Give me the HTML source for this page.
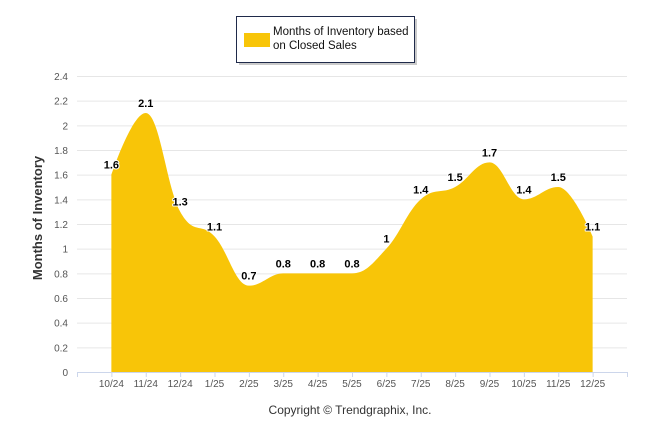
<!DOCTYPE html>
<html><head><meta charset="utf-8"><style>
html,body{margin:0;padding:0;background:#fff;width:646px;height:434px;overflow:hidden}
text{font-family:"Liberation Sans",Arial,sans-serif}
</style></head><body>
<svg id="chart" width="646" height="434" viewBox="0 0 646 434" xmlns="http://www.w3.org/2000/svg">
<g>
<rect x="237.5" y="17.5" width="178" height="46" fill="#666" opacity="0.35" transform="translate(1.5,1.5)"/>
<rect x="236.5" y="16.5" width="178" height="46" fill="#fff" stroke="#1f2a4a" stroke-width="1"/>
<rect x="244" y="33" width="26" height="14" fill="#f8c508"/>
<text x="273" y="35" font-size="11.5" fill="#111">Months of Inventory based</text>
<text x="273" y="49" font-size="11.5" fill="#111">on Closed Sales</text>
</g>
<g id="grid"></g>
<g id="yticks"></g>
<path id="area" fill="#f8c508"/>
<g id="xaxis"></g>
<g id="labels"></g>
<text transform="translate(42,218) rotate(-90)" text-anchor="middle" font-size="13" font-weight="bold" fill="#333">Months of Inventory</text>
<text x="350" y="414" text-anchor="middle" font-size="12" fill="#333">Copyright © Trendgraphix, Inc.</text>
</svg>
<script>
const categories=["10/24","11/24","12/24","1/25","2/25","3/25","4/25","5/25","6/25","7/25","8/25","9/25","10/25","11/25","12/25"];
const values=[1.6,2.1,1.3,1.1,0.7,0.8,0.8,0.8,1,1.4,1.5,1.7,1.4,1.5,1.1];
const valueLabels=["1.6","2.1","1.3","1.1","0.7","0.8","0.8","0.8","1","1.4","1.5","1.7","1.4","1.5","1.1"];
const yTicks=[0,0.2,0.4,0.6,0.8,1,1.2,1.4,1.6,1.8,2,2.2,2.4];
const yTickLabels=["0","0.2","0.4","0.6","0.8","1","1.2","1.4","1.6","1.8","2","2.2","2.4"];
const NS="http://www.w3.org/2000/svg";
const L=77,R=627,T=76,B=372,yMax=2.4;
const step=(R-L)/(categories.length+1);
const xs=i=>L+step*(i+1);
const ys=v=>B-(v/yMax)*(B-T);
function mk(tag,attrs,parent,txt){const e=document.createElementNS(NS,tag);for(const k in attrs)e.setAttribute(k,attrs[k]);if(txt!==undefined)e.textContent=txt;parent.appendChild(e);return e;}
const grid=document.getElementById('grid'),yt=document.getElementById('yticks');
yTicks.forEach((v,i)=>{
  const l=mk('line',{x1:L,x2:R,y1:ys(v)+0.5,y2:ys(v)+0.5,stroke:i==0?'#ccd6eb':'#e6e6e6','stroke-width':1},grid);
  
  
  const t=mk('text',{x:68,y:ys(v)+4,'text-anchor':'end','font-size':10,fill:'#555'},yt,yTickLabels[i]);
  
  
});
const xa=document.getElementById('xaxis');
for(let i=0;i<=categories.length+1;i++){
  const x=L+step*i+ (i==0?0:0);
  const tk=mk('line',{x1:x+0.5,x2:x+0.5,y1:B,y2:B+5,stroke:'#ccd6eb'},xa);
  
  
}
categories.forEach((c,i)=>{
  const t=mk('text',{x:xs(i),y:387,'text-anchor':'middle','font-size':10,fill:'#555'},xa,c);
  
  
});
// Highcharts-style spline
const pts=values.map((v,i)=>[xs(i),ys(v)]);
const sm=1.5,den=2.5;
const ctrl=pts.map((p,i)=>{
  if(i==0||i==pts.length-1)return null;
  const [px,py]=pts[i-1],[x,y]=p,[nx,ny]=pts[i+1];
  let lcx=(sm*x+px)/den,lcy=(sm*y+py)/den,rcx=(sm*x+nx)/den,rcy=(sm*y+ny)/den;
  const corr=((rcy-lcy)*(rcx-x))/(rcx-lcx)+y-rcy;
  lcy+=corr;rcy+=corr;
  if(lcy>Math.max(py,y)){lcy=Math.max(py,y);rcy=2*y-lcy;}else if(lcy<Math.min(py,y)){lcy=Math.min(py,y);rcy=2*y-lcy;}
  if(rcy>Math.max(ny,y)){rcy=Math.max(ny,y);lcy=2*y-rcy;}else if(rcy<Math.min(ny,y)){rcy=Math.min(ny,y);lcy=2*y-rcy;}
  return [lcx,lcy,rcx,rcy];
});
let d=`M${pts[0][0]},${B}L${pts[0][0]},${pts[0][1]}`;
for(let i=1;i<pts.length;i++){
  const a=pts[i-1],b=pts[i];
  const c1=ctrl[i-1]?[ctrl[i-1][2],ctrl[i-1][3]]:a;
  const c2=ctrl[i]?[ctrl[i][0],ctrl[i][1]]:b;
  d+=`C${c1[0]},${c1[1]} ${c2[0]},${c2[1]} ${b[0]},${b[1]}`;
}
d+=`L${pts[pts.length-1][0]},${B}Z`;
document.getElementById('area').setAttribute('d',d);
const lg=document.getElementById('labels');
values.forEach((v,i)=>{
  const t=mk('text',{x:xs(i),y:ys(v)-6,'text-anchor':'middle','font-size':11,'font-weight':'bold',fill:'#000',stroke:'#fff','stroke-width':2,'paint-order':'stroke','stroke-linejoin':'round'},lg,valueLabels[i]);
  
  
});
</script>
</body></html>
